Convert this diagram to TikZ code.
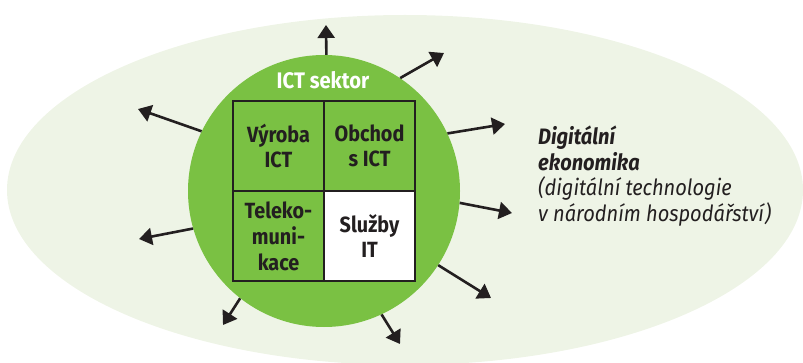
\documentclass[tikz,border=0pt]{standalone}
\usepackage{fontspec}
\setmainfont{Fira Sans}[FakeStretch=0.9]
\usetikzlibrary{arrows.meta}
\definecolor{ictgreen}{HTML}{7AC143}
\definecolor{digibg}{HTML}{EEF4E6}
\definecolor{ink}{HTML}{231F20}

\begin{document}
\begin{tikzpicture}[x=1pt,y=-1pt,
  cell/.style={draw=ink, line width=1.8pt, minimum width=90.5pt, minimum height=90pt,
    inner sep=0pt, align=center, text=ink,
    font=\fontsize{22}{25}\selectfont\bfseries},
  spoke/.style={draw=ink, line width=2.6pt, -{Triangle[length=13pt,width=17pt]}}]
\useasboundingbox (0,0) rectangle (803,363);

% digital economy background
\fill[digibg] (405,190) ellipse [x radius=398pt, y radius=175pt];

% ICT sector disc
\node[circle, fill=ictgreen, minimum size=272pt, inner sep=0pt] (ict) at (324,191) {};
\node[anchor=base, text=white, font=\fontsize{22.5}{25}\selectfont\bfseries] (title) at (323,89) {ICT sektor};

% the four sub-sectors
\node[cell, fill=ictgreen] (vyroba) at (278.5,146) {Výroba\\ICT};
\node[cell, fill=ictgreen] (obchod) at (369.5,146) {Obchod\\s ICT};
\node[cell, fill=ictgreen, font=\fontsize{22}{26}\selectfont\bfseries] (tele) at (278.5,236) {Teleko-\\muni-\\kace};
\node[cell, fill=white] (sluzby) at (369.5,236) {Služby\\IT};

% spreading outward
\coordinate (t1) at (326,25);
\coordinate (t2) at (444,53);
\coordinate (t3) at (138,109);
\coordinate (t4) at (505,124);
\coordinate (t5) at (139,239);
\coordinate (t6) at (512,213);
\coordinate (t7) at (223,325);
\coordinate (t8) at (400,344);
\coordinate (t9) at (491,298);
\draw[spoke] (ict.89) -- (t1);
\draw[spoke] (ict.56) -- (t2);
\draw[spoke] (ict.154) -- (t3);
\draw[spoke] (ict.25) -- (t4);
\draw[spoke] (ict.196.6) -- (t5);
\draw[spoke] (ict.-5) -- (t6);
\draw[spoke] (ict.232.7) -- (t7);
\draw[spoke] (ict.-65.7) -- (t8);
\draw[spoke] (ict.-33.9) -- (t9);

% caption of the outer area
\node[anchor=north west, inner sep=0pt, align=left, text=ink,
  font=\fontsize{22.3}{25.5}\selectfont\itshape] (digi) at (538,126)
  {\textbf{Digitální}\\\textbf{ekonomika}\\(digitální technologie\\v národním hospodářství)};
\end{tikzpicture}
\end{document}
